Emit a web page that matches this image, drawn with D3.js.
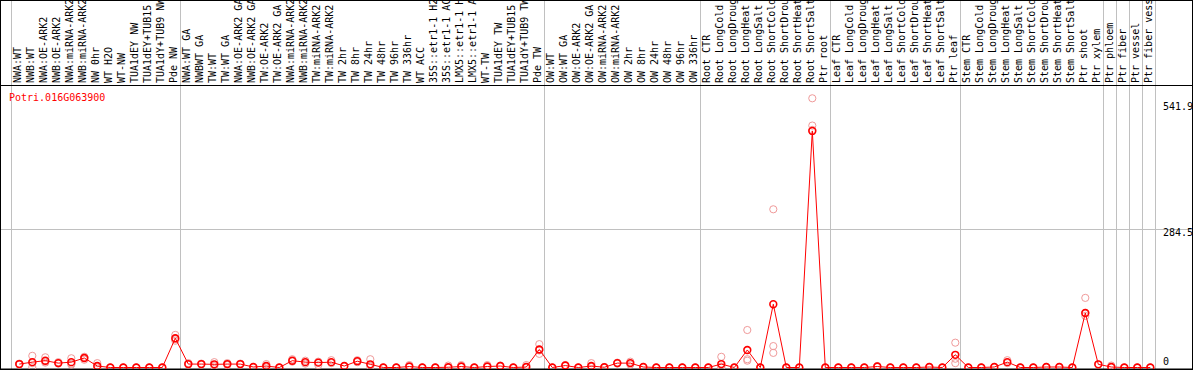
<!DOCTYPE html>
<html>
<head>
<meta charset="utf-8">
<script src="https://cdn.jsdelivr.net/npm/d3@7"></script>
<style>
  body { margin: 0; background: #fff; }
  svg { display: block; }
  text { font-family: 'DejaVu Sans Mono', monospace; font-size: 10px; }
</style>
</head>
<body>
<div id="chart"></div>
<script>
const geneId = 'Potri.016G063900';

// sample labels, as shown (cut to 14 chars)
const samples = [
  'NWA:WT', 'NWB:WT', 'NWA:OE-ARK2', 'NWB:OE-ARK2', 'NWA:miRNA-ARK2', 'NWB:miRNA-ARK2',
  'NW 0hr', 'WT H2O', 'WT-NW', 'TUA1dEY NW', 'TUA1dEY+TUB15', 'TUA1dY+TUB9 NW', 'Pde NW',
  'NWA:WT GA', 'NWBWT GA', 'TW:WT', 'TW:WT GA', 'NWA:OE-ARK2 GA', 'NWB:OE-ARK2 GA',
  'TW:OE-ARK2', 'TW:OE-ARK2 GA', 'NWA:miRNA-ARK2', 'NWB:miRNA-ARK2', 'TW:miRNA-ARK2',
  'TW:miRNA-ARK2', 'TW 2hr', 'TW 8hr', 'TW 24hr', 'TW 48hr', 'TW 96hr', 'TW 336hr',
  'WT ACC', '35S::etr1-1 H2', '35S::etr1-1 AC', 'LMX5::etr1-1 H', 'LMX5::etr1-1 A',
  'WT-TW', 'TUA1dEY TW', 'TUA1dEY+TUB15', 'TUA1dY+TUB9 TW', 'Pde TW',
  'OW:WT', 'OW:WT GA', 'OW:OE-ARK2', 'OW:OE-ARK2 GA', 'OW:miRNA-ARK2', 'OW:miRNA-ARK2',
  'OW 2hr', 'OW 8hr', 'OW 24hr', 'OW 48hr', 'OW 96hr', 'OW 336hr',
  'Root CTR', 'Root LongCold', 'Root LongDroug', 'Root LongHeat', 'Root LongSalt',
  'Root ShortCold', 'Root ShortDrou', 'Root ShortHeat', 'Root ShortSalt', 'Ptr root',
  'Leaf CTR', 'Leaf LongCold', 'Leaf LongDroug', 'Leaf LongHeat', 'Leaf LongSalt',
  'Leaf ShortCold', 'Leaf ShortDrou', 'Leaf ShortHeat', 'Leaf ShortSalt', 'Ptr leaf',
  'Stem CTR', 'Stem LongCold', 'Stem LongDroug', 'Stem LongHeat', 'Stem LongSalt',
  'Stem ShortCold', 'Stem ShortDrou', 'Stem ShortHeat', 'Stem ShortSalt', 'Ptr shoot',
  'Ptr xylem', 'Ptr phloem', 'Ptr fiber', 'Ptr vessel', 'Ptr fiber vess',
];

// number of samples in each experiment block
const groupSizes = [13, 28, 12, 10, 10, 11, 1, 1, 1, 1];

// mean expression per sample
const means = [
  7, 11, 14, 9, 11, 19.5, 3, 0, 0, 0, 0, 0, 60,
  7, 7, 6.5, 7, 7, 1, 3, 0, 14, 11, 10, 11, 3, 13, 6.5, 0, 0, 2, 0, 0, 0.5, 2, 0, 2, 3, 0, 1, 37,
  0, 4, 0, 3, 0.5, 9, 9, 1, 0, 0, 0, 0,
  0, 7, 0, 36, 0, 130, 0, 0, 486, 0,
  0, 0, 0, 2, 0, 0, 0, 1, 0, 26,
  0, 0, 1, 11, 0, 0, 1, 1, 0, 112, 6.5,
  1, 0, 0, 0,
];

// replicate values per sample
const replicates = [
  [6, 8, 7], [24, 1, 9], [21, 12, 10], [11, 8], [19, 6, 8], [22, 16, 20], [9, 0], [0], [0], [0], [0], [0], [67, 55, 58],
  [9, 6], [8, 6], [11, 3], [9, 5], [8, 6], [1], [7, 0], [0], [17, 12], [14, 8], [5, 12], [15, 9], [3],
  [15, 11], [17, 2], [0], [0], [5], [0], [0], [4], [5, 1], [0], [5], [4], [0], [5], [48, 28, 35],
  [0], [5], [0], [9, 1], [1], [10, 8], [12, 6], [1], [0], [0], [0], [0],
  [0], [22, 2, 0], [0], [77, 17, 14], [0], [325, 44, 30], [0], [0], [553, 497, 488], [0],
  [0], [0], [0], [3], [0], [0], [0], [1], [0], [51, 9, 18],
  [0], [0], [1], [15, 9], [0], [0], [1], [1], [0], [143, 112, 106], [6.5],
  [4], [0], [0], [0],
];

const yTicks = [0, 284.5, 541.9];

const width = 1194;
const height = 370;
const headerBottom = 85;
const plotBottom = 367.5;
const plotTop = 103.7;

const svg = d3.select('#chart')
    .append('svg')
    .attr('width', width)
    .attr('height', height);

svg.append('rect')
    .attr('width', width)
    .attr('height', height)
    .attr('fill', '#fff');

const xScale = d3.scaleBand()
    .domain(d3.range(samples.length))
    .range([12.8, 12.8 + samples.length * 13]);

const cx = (i) => xScale(i) + xScale.bandwidth() / 2;

const yScale = d3.scaleLinear()
    .domain([0, d3.max(yTicks)])
    .range([plotBottom, plotTop]);

// horizontal grid line at the middle tick
svg.append('line')
    .attr('x1', 1).attr('x2', 1192)
    .attr('y1', Math.round(yScale(yTicks[1])) + 0.5)
    .attr('y2', Math.round(yScale(yTicks[1])) + 0.5)
    .attr('stroke', '#c0c0c0');

// block separators
const starts = [0];
groupSizes.forEach((n) => starts.push(starts[starts.length - 1] + n));
svg.selectAll('.sep')
    .data(starts)
    .enter()
    .append('line')
    .attr('class', 'sep')
    .attr('x1', (d) => Math.round(12.8 + d * 13 - 1.5) + 0.5)
    .attr('x2', (d) => Math.round(12.8 + d * 13 - 1.5) + 0.5)
    .attr('y1', 0)
    .attr('y2', 369)
    .attr('stroke', '#c0c0c0');

// rotated sample names
svg.selectAll('.lab')
    .data(samples)
    .enter()
    .append('text')
    .attr('class', 'lab')
    .attr('transform', (d, i) => `translate(${cx(i) + 1.6}, 83) rotate(-90)`)
    .attr('fill', '#000')
    .text((d) => d);

// header rule and frame
svg.append('line')
    .attr('x1', 0).attr('x2', 1193)
    .attr('y1', headerBottom + 0.5).attr('y2', headerBottom + 0.5)
    .attr('stroke', '#000');

svg.append('rect')
    .attr('x', 0.5).attr('y', 0.5)
    .attr('width', 1192).attr('height', 368.5)
    .attr('fill', 'none')
    .attr('stroke', '#000');

// y tick labels on the right
svg.selectAll('.tick')
    .data(yTicks)
    .enter()
    .append('text')
    .attr('class', 'tick')
    .attr('x', 1163)
    .attr('y', (d) => Math.min(yScale(d) + 6.7, 365.3))
    .attr('fill', '#000')
    .text((d) => d);

svg.append('text')
    .attr('x', 9)
    .attr('y', 101)
    .attr('fill', '#ff0000')
    .text(geneId);

const plot = svg.append('g');

// replicates
replicates.forEach((reps, i) => {
  plot.selectAll(null)
      .data(reps)
      .enter()
      .append('circle')
      .attr('cx', cx(i))
      .attr('cy', (d) => yScale(d))
      .attr('r', 3.6)
      .attr('fill', 'none')
      .attr('stroke', '#f09a9a')
      .attr('stroke-width', 1);
});

const line = d3.line()
    .x((d, i) => cx(i))
    .y((d) => yScale(d));

plot.append('path')
    .datum(means)
    .attr('fill', 'none')
    .attr('stroke', '#ff0000')
    .attr('stroke-width', 1)
    .attr('d', line);

plot.selectAll('.mean')
    .data(means)
    .enter()
    .append('circle')
    .attr('class', 'mean')
    .attr('cx', (d, i) => cx(i))
    .attr('cy', (d) => yScale(d))
    .attr('r', 3.4)
    .attr('fill', 'none')
    .attr('stroke', '#ff0000')
    .attr('stroke-width', 1.6);

// redraw frame bottom over circles
svg.append('line')
    .attr('x1', 0).attr('x2', 1193)
    .attr('y1', 369.5).attr('y2', 369.5)
    .attr('stroke', '#000');
</script>
</body>
</html>
